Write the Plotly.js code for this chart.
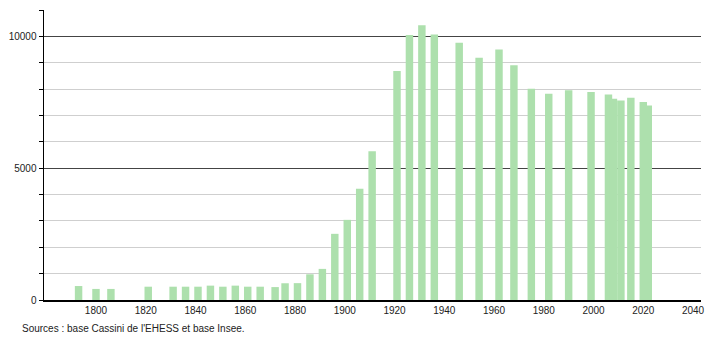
<!DOCTYPE html>
<html>
<head>
<meta charset="utf-8">
<script src="https://cdn.plot.ly/plotly-3.0.1.min.js"></script>
<style>html,body{margin:0;padding:0;background:#fff;}#chart{width:710px;height:340px;}</style>
</head>
<body>
<div id="chart"></div>
<script>
// Census years and population values
const years = [1793, 1800, 1806, 1821, 1831, 1836, 1841, 1846, 1851, 1856, 1861, 1866, 1872, 1876, 1881, 1886, 1891, 1896, 1901, 1906, 1911, 1921, 1926, 1931, 1936, 1946, 1954, 1962, 1968, 1975, 1982, 1990, 1999, 2006, 2008, 2011, 2015, 2020, 2022];
const population = [530, 420, 420, 505, 505, 505, 505, 545, 505, 545, 505, 505, 490, 635, 640, 975, 1180, 2510, 3040, 4220, 5640, 8690, 10050, 10420, 10075, 9760, 9190, 9505, 8900, 8010, 7820, 7960, 7885, 7795, 7630, 7570, 7670, 7510, 7375];
const xTickVals = [1800, 1820, 1840, 1860, 1880, 1900, 1920, 1940, 1960, 1980, 2000, 2020, 2040];
const yTickVals = [0, 5000, 10000];
const sourceText = "Sources : base Cassini de l'EHESS et base Insee.";

const font = {family: "Liberation Sans, Arial, sans-serif", size: 10, color: "#222"};

const trace = {
  type: 'bar',
  x: years,
  y: population,
  width: years.map(() => 3),
  marker: {color: '#ade0ad', line: {width: 0}},
  hoverinfo: 'x+y'
};

const layout = {
  width: 710, height: 340,
  margin: {l: 44, r: 9, t: 10, b: 40, pad: 0},
  paper_bgcolor: '#fff', plot_bgcolor: '#fff',
  barmode: 'overlay',
  showlegend: false,
  font: font,
  xaxis: {
    range: [1779.1, 2043.2],
    tickvals: xTickVals,
    ticktext: xTickVals.map(String),
    showgrid: false, zeroline: false,
    showline: true, linecolor: '#000', linewidth: 1.5,
    ticks: '', tickfont: font
  },
  yaxis: {
    range: [0, 11000],
    tickvals: yTickVals,
    ticktext: yTickVals.map(String),
    showgrid: true, gridcolor: '#444', gridwidth: 1,
    zeroline: false,
    showline: true, linecolor: '#000', linewidth: 1.5,
    ticks: 'outside', ticklen: 4, tickcolor: '#000', tickwidth: 1,
    minor: {dtick: 1000, tick0: 0, showgrid: true, gridcolor: '#cfcfcf', gridwidth: 1, ticks: 'outside', ticklen: 4, tickcolor: '#000'},
    tickfont: font
  },
  annotations: [{
    text: sourceText, xref: 'paper', yref: 'paper',
    x: -0.037, y: -0.072, xanchor: 'left', yanchor: 'top',
    showarrow: false, font: {family: font.family, size: 10, color: '#222'}
  }]
};

Plotly.newPlot('chart', [trace], layout, {displayModeBar: false, staticPlot: true});
</script>
</body>
</html>
